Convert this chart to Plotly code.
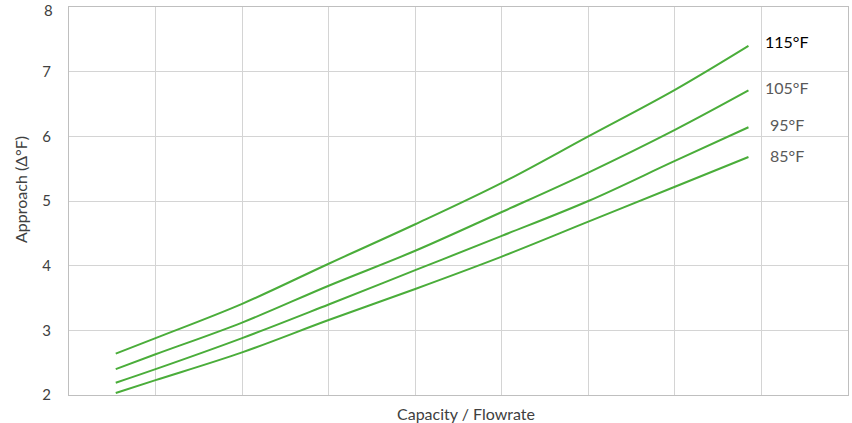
import plotly.graph_objects as go

# Data
capacity = [0.54, 1, 2, 3, 4, 5, 6, 7, 7.85]
approach_115 = [2.64, 2.88, 3.41, 4.03, 4.64, 5.28, 6.00, 6.72, 7.40]
approach_105 = [2.40, 2.63, 3.12, 3.69, 4.23, 4.83, 5.44, 6.10, 6.71]
approach_95 = [2.19, 2.40, 2.88, 3.40, 3.93, 4.46, 5.00, 5.62, 6.14]
approach_85 = [2.03, 2.23, 2.66, 3.16, 3.64, 4.14, 4.68, 5.22, 5.68]
series_names = ["115°F", "105°F", "95°F", "85°F"]
label_y = [7.47, 6.76, 6.19, 5.70]
label_x = [8.02, 8.02, 8.08, 8.08]
label_colors = ["#000000", "#595959", "#595959", "#595959"]
y_ticks = [2, 3, 4, 5, 6, 7, 8]

FONT = "Lato, 'Open Sans', sans-serif"
GREEN = "#4aad3a"
TICK_COLOR = "#404040"

fig = go.Figure()
for name, ys in zip(series_names, [approach_115, approach_105, approach_95, approach_85]):
    fig.add_trace(go.Scatter(
        x=capacity, y=ys, mode="lines", name=name,
        line=dict(color=GREEN, width=2, shape="spline", smoothing=1.0),
        showlegend=False, hoverinfo="x+y+name",
    ))

W, H = 852, 423
ml, mr, mt, mb = 69, 4, 7, 28


def px_to_paper(px, py):
    return (px - ml) / (W - ml - mr), (H - py - mb) / (H - mt - mb)


annotations = []
for name, lx, ly, col in zip(series_names, label_x, label_y, label_colors):
    annotations.append(dict(
        x=lx, y=ly, xref="x", yref="y", text=name, showarrow=False,
        xanchor="left", yanchor="middle",
        font=dict(family=FONT, size=16, color=col),
    ))

# top tick label (Plotly drops it because it touches the top edge)
annotations.append(dict(
    x=0, y=y_ticks[-1], xref="paper", yref="y", text=str(y_ticks[-1]),
    showarrow=False, xanchor="right", yanchor="top", xshift=-14, yshift=8,
    font=dict(family=FONT, size=15, color=TICK_COLOR),
))

ax, ay = px_to_paper(20, 190)
annotations.append(dict(
    x=ax, y=ay, xref="paper", yref="paper",
    text="Approach (Δ°F)", showarrow=False, textangle=-90,
    xanchor="center", yanchor="middle",
    font=dict(family=FONT, size=16, color="#404040"),
))
bx, by = px_to_paper(466, 413)
annotations.append(dict(
    x=bx, y=by, xref="paper", yref="paper",
    text="Capacity / Flowrate", showarrow=False,
    xanchor="center", yanchor="middle",
    font=dict(family=FONT, size=16, color="#404040"),
))

fig.update_layout(
    width=W, height=H,
    margin=dict(l=ml, r=mr, t=mt, b=mb, autoexpand=False),
    paper_bgcolor="white", plot_bgcolor="white",
    font=dict(family=FONT, size=14, color="#595959"),
    annotations=annotations,
    xaxis=dict(
        range=[0, 9], dtick=1, tick0=0, showticklabels=False,
        showgrid=True, gridcolor="#d4d4d4", gridwidth=1,
        showline=True, linecolor="#bfbfbf", linewidth=1, mirror=True,
        zeroline=False, ticks="", automargin=False,
    ),
    yaxis=dict(
        range=[2, 8], tickmode="array", tickvals=y_ticks[:-1],
        ticktext=[str(v) for v in y_ticks[:-1]],
        showgrid=True, gridcolor="#d4d4d4", gridwidth=1,
        showline=True, linecolor="#bfbfbf", linewidth=1, mirror=True,
        zeroline=False, ticks="", ticklabelstandoff=14, automargin=False,
        tickfont=dict(family=FONT, size=15, color=TICK_COLOR),
    ),
)

fig.write_html(
    "out.html",
    config={"displayModeBar": False},
    post_script="document.body.style.margin='0';document.body.style.overflow='hidden';",
)
